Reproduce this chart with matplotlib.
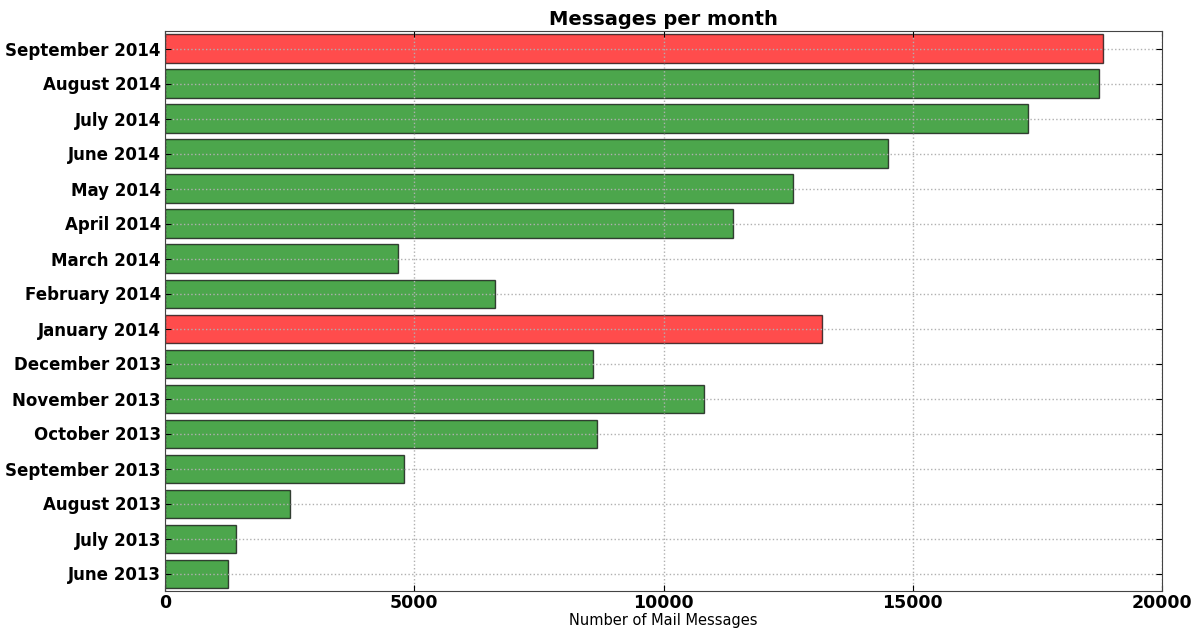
import matplotlib
matplotlib.use("Agg")
import matplotlib.pyplot as plt

months = ["June 2013", "July 2013", "August 2013", "September 2013",
          "October 2013", "November 2013", "December 2013", "January 2014",
          "February 2014", "March 2014", "April 2014", "May 2014",
          "June 2014", "July 2014", "August 2014", "September 2014"]
messages = [1257, 1424, 2507, 4793, 8658, 10804, 8578, 13171,
            6612, 4673, 11392, 12595, 14500, 17308, 18746, 18819]
highlight = ["January 2014", "September 2014"]

colors = ["red" if m in highlight else "green" for m in months]

fig = plt.figure(figsize=(11.97, 6.31), dpi=100)
ax = fig.add_axes([165 / 1197, 1 - 591 / 631, 997 / 1197, 560 / 631])

ypos = list(range(len(months)))
ax.barh(ypos, messages, height=0.8, color=colors, alpha=0.7,
        edgecolor="black", linewidth=1, align="center")

ax.set_yticks(ypos)
ax.set_yticklabels(months, fontsize=12, fontweight="bold")
ax.set_ylim(-0.5, 15.5)
ax.set_xlim(0, 20000)
ax.set_xticks([0, 5000, 10000, 15000, 20000])
for lbl in ax.get_xticklabels():
    lbl.set_fontsize(12.5)
    lbl.set_fontweight("bold")

ax.grid(True, linestyle=":", color="#b0b0b0", linewidth=1)
ax.tick_params(direction="in", top=True, right=True, length=4)
ax.tick_params(axis="x", pad=2)
ax.tick_params(axis="y", pad=3)
for s in ax.spines.values():
    s.set_color("#444444")

ax.set_title("Messages per month", fontsize=14, fontweight="bold", pad=4)
ax.set_xlabel("Number of Mail Messages", fontsize=10.5, labelpad=1)

fig.savefig("out.png", dpi=100)
